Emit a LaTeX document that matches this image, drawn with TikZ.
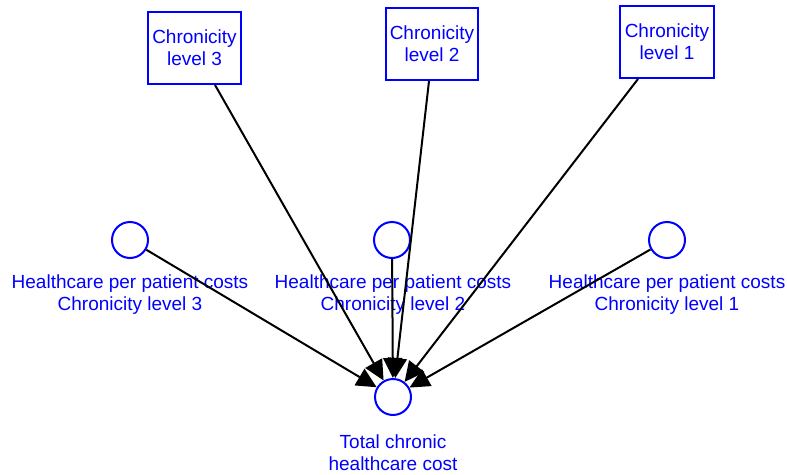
\documentclass[tikz,border=0pt]{standalone}
\usepackage{fontspec}
\setmainfont{Liberation Sans}
\usetikzlibrary{arrows.meta}
\definecolor{nodeblue}{RGB}{0,0,255}
\begin{document}
\begin{tikzpicture}[x=1pt,y=-1pt,
  stockbox/.style={draw=nodeblue,line width=2pt,text=nodeblue,minimum height=72pt,align=center,inner sep=0pt,font=\fontsize{19}{22}\selectfont},
  auxnode/.style={circle,draw=nodeblue,line width=2pt,minimum size=36pt,inner sep=0pt},
  lbl/.style={text=nodeblue,align=center,inner sep=0pt,font=\fontsize{19}{22}\selectfont},
  link/.style={black,line width=2pt,-{Triangle[length=20pt,width=19pt]}}
]
\useasboundingbox (0,0) rectangle (787,474);
% chronicity level stocks
\node[stockbox,minimum width=93pt] (b3) at (194.5,48) {Chronicity\\level 3};
\node[stockbox,minimum width=92pt] (b2) at (432,44) {Chronicity\\level 2};
\node[stockbox,minimum width=94pt] (b1) at (667,42) {Chronicity\\level 1};
% per patient cost variables
\node[auxnode] (c3) at (130,240) {};
\node[auxnode] (c2) at (392,240) {};
\node[auxnode] (c1) at (667,240) {};
\node[lbl] (l3) at (130,295) {Healthcare per patient costs\\Chronicity level 3};
\node[lbl] (l2) at (393,295) {Healthcare per patient costs\\Chronicity level 2};
\node[lbl] (l1) at (667,295) {Healthcare per patient costs\\Chronicity level 1};
% total cost
\node[auxnode] (t) at (393,397) {};
\node[lbl] (lt) at (393,453) {Total chronic\\healthcare cost};
% links into the total
\draw[link] (b3.south -| 215,0) -- (t);
\draw[link] (b2.south -| 429,0) -- (t);
\draw[link] (b1.south -| 638,0) -- (t);
\draw[link] (c3) -- (t);
\draw[link] (c2) -- (t);
\draw[link] (c1) -- (t);
\end{tikzpicture}
\end{document}
